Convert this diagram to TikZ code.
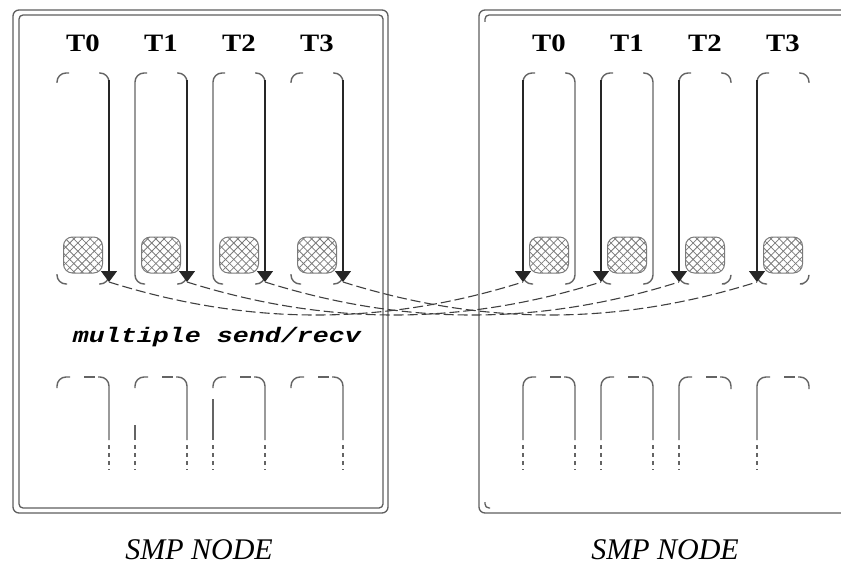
\documentclass[tikz,border=0pt]{standalone}
\usepackage{graphicx}
\usepackage{fontspec}
\setmainfont{Liberation Serif}
\newfontfamily\courfont{Liberation Mono}
\usetikzlibrary{arrows.meta,patterns.meta}

\definecolor{framec}{HTML}{5E5E5E}
\definecolor{lanec}{HTML}{646464}
\definecolor{arrc}{HTML}{262626}
\definecolor{linkc}{HTML}{404040}
\definecolor{hatchc}{HTML}{7A7A7A}

\tikzset{
  framebox/.style={draw=framec, line width=1.3pt},
  laneline/.style={draw=lanec, line width=1.4pt, rounded corners=9pt},
  lanedash/.style={draw=lanec, line width=1.4pt, dash pattern=on 4pt off 4pt},
  arrowline/.style={draw=arrc, line width=1.4pt, -{Triangle[width=16pt,length=11pt]}},
  linkline/.style={draw=linkc, line width=1.1pt, dash pattern=on 10pt off 4pt},
  hatchbox/.style={draw=hatchc, line width=1pt, rounded corners=9pt,
    minimum width=39pt, minimum height=36pt, inner sep=0pt,
    pattern color=hatchc,
    pattern={Lines[angle=45,distance=5.8pt,line width=0.8pt]},
    postaction={pattern color=hatchc, pattern={Lines[angle=-45,distance=5.8pt,line width=0.8pt]}}},
  tlabel/.style={anchor=base, inner sep=0pt, font=\fontsize{25}{25}\selectfont\bfseries},
  cmdlabel/.style={anchor=base, inner sep=0pt, font=\courfont\fontsize{21}{21}\selectfont\bfseries\itshape},
  smplabel/.style={anchor=base, inner sep=0pt, font=\fontsize{30}{30}\selectfont\itshape},
}

\begin{document}
\begin{tikzpicture}[x=1pt, y=-1pt]
\useasboundingbox (0,0) rectangle (841,567);
\clip (0,0) rectangle (841,567);

% ---------- frames ----------
\draw[framebox, rounded corners=6pt] (13,10) rectangle (388,513);
\draw[framebox, rounded corners=4pt] (19,15) rectangle (383,508);
\draw[framebox, rounded corners=6pt] (479,10) rectangle (870,513);
\draw[framebox, rounded corners=4pt] (485,22) -- (485,15) -- (870,15);
\draw[framebox, rounded corners=4pt] (485,502) -- (485,508) -- (490,508);

% ---------- labels ----------
\foreach \i/\x in {0/83,1/161,2/239,3/317} {
  \node[tlabel] (LT\i) at (\x,52) {\scalebox{1.15}[1]{T\i}};
}
\foreach \i/\x in {0/549,1/627,2/705,3/783} {
  \node[tlabel] (RT\i) at (\x,52) {\scalebox{1.15}[1]{T\i}};
}
\node[cmdlabel] (cmd) at (217,342) {\scalebox{1.27}[1]{multiple send/recv}};
\node[smplabel] (smpL) at (199,559) {SMP NODE};
\node[smplabel] (smpR) at (665,559) {SMP NODE};

% ---------- upper lanes, left node ----------
\foreach \i/\xl/\hl in {0/57/0,1/135/1,2/213/1,3/291/0} {
  \pgfmathsetmacro\xr{\xl+52}
  \ifnum\hl=1
    \draw[laneline] (\xl+12,73) -- (\xl,73) -- (\xl,284) -- (\xl+10,284);
  \else
    \draw[laneline] (\xl+12,73) -- (\xl,73) -- (\xl,83);
    \draw[laneline] (\xl,274) -- (\xl,284) -- (\xl+10,284);
  \fi
  \draw[laneline] (\xr-10,73) -- (\xr,73) -- (\xr,83);
  \draw[laneline] (\xr,274) -- (\xr,284) -- (\xr-10,284);
  \node[hatchbox] (LH\i) at (\xl+26,255) {};
  \coordinate (Ltop\i) at (\xr,80);
  \coordinate (Ltip\i) at (\xr,282);
}

% ---------- upper lanes, right node ----------
\foreach \i/\xl/\hr in {0/523/1,1/601/1,2/679/0,3/757/0} {
  \pgfmathsetmacro\xr{\xl+52}
  \draw[laneline] (\xl+12,73) -- (\xl,73) -- (\xl,83);
  \draw[laneline] (\xl,274) -- (\xl,284) -- (\xl+10,284);
  \ifnum\hr=1
    \draw[laneline] (\xr-10,73) -- (\xr,73) -- (\xr,284) -- (\xr-10,284);
  \else
    \draw[laneline] (\xr-10,73) -- (\xr,73) -- (\xr,83);
    \draw[laneline] (\xr,276) -- (\xr,284) -- (\xr-6,284);
  \fi
  \node[hatchbox] (RH\i) at (\xl+26,255) {};
  \coordinate (Rtop\i) at (\xl,80);
  \coordinate (Rtip\i) at (\xl,282);
}

% ---------- send/recv links ----------
\foreach \i in {0,1,2,3} {
  \draw[linkline] (Ltip\i) .. controls +(140,44) and +(-140,44) .. (Rtip\i);
}
\foreach \i in {0,1,2,3} {
  \draw[arrowline] (Ltop\i) -- (Ltip\i);
  \draw[arrowline] (Rtop\i) -- (Rtip\i);
}

% ---------- lower lanes, left node ----------
\foreach \xl/\ls in {57/0,135/425,213/399,291/0} {
  \pgfmathsetmacro\xr{\xl+52}
  \draw[laneline] (\xl,388) -- (\xl,377) -- (\xl+13,377);
  \draw[laneline] (\xl+27,377) -- (\xl+38,377);
  \draw[laneline] (\xl+41,377) -- (\xr,377) -- (\xr,440);
  \draw[lanedash] (\xr,445) -- (\xr,470);
  \ifnum\ls>0
    \draw[laneline] (\xl,\ls) -- (\xl,440);
    \draw[lanedash] (\xl,445) -- (\xl,470);
  \fi
}

% ---------- lower lanes, right node ----------
\foreach \xl/\hr in {523/1,601/1,679/0,757/0} {
  \pgfmathsetmacro\xr{\xl+52}
  \draw[laneline] (\xl+13,377) -- (\xl,377) -- (\xl,440);
  \draw[lanedash] (\xl,445) -- (\xl,470);
  \draw[laneline] (\xl+27,377) -- (\xl+38,377);
  \ifnum\hr=1
    \draw[laneline] (\xl+41,377) -- (\xr,377) -- (\xr,440);
    \draw[lanedash] (\xr,445) -- (\xr,470);
  \else
    \draw[laneline] (\xl+41,377) -- (\xr,377) -- (\xr,389);
  \fi
}
\end{tikzpicture}
\end{document}
